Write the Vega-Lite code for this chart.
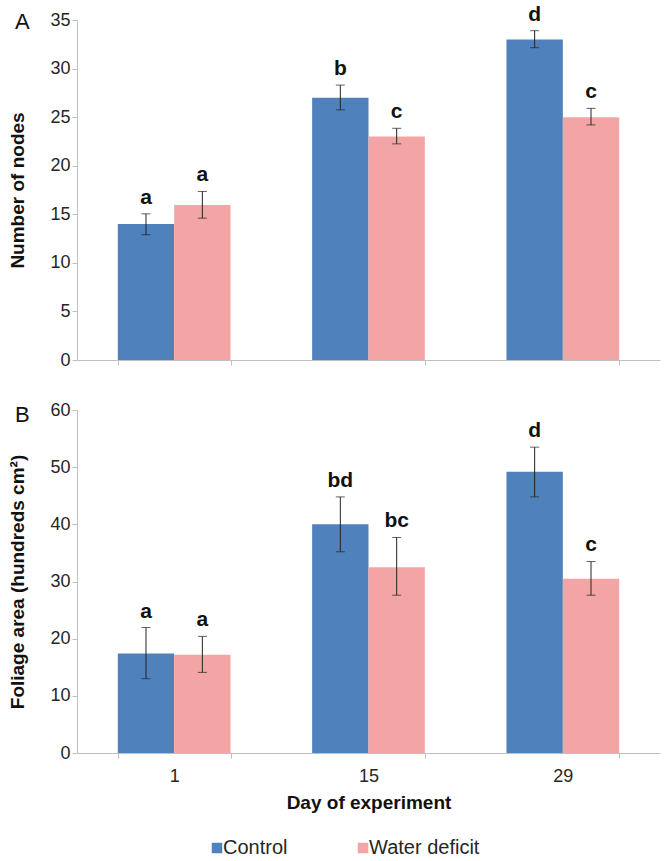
{
  "$schema": "https://vega.github.io/schema/vega-lite/v6.json",
  "padding": {"left": 8, "top": 3, "right": 5, "bottom": 0},
  "background": "white",
  "config": {
    "font": "Liberation Sans",
    "view": {"stroke": null},
    "axis": {
      "grid": false,
      "domainColor": "#bfbfbf",
      "tickColor": "#bfbfbf",
      "tickSize": 5,
      "labelFont": "Liberation Sans",
      "labelFontSize": 18,
      "labelColor": "#262626",
      "titleFont": "Liberation Sans",
      "titleFontSize": 19,
      "titleFontWeight": "bold",
      "titleColor": "#111111"
    },
    "title": {"font": "Liberation Sans", "color": "#111111"}
  },
  "resolve": {"scale": {"color": "independent"}, "legend": {"color": "independent"}},
  "datasets": {
    "nodes": [
      {"day": "1", "group": "Control", "value": 14, "low": 12.9, "high": 15.05, "letter": "a"},
      {"day": "1", "group": "Water deficit", "value": 15.95, "low": 14.6, "high": 17.35, "letter": "a"},
      {"day": "15", "group": "Control", "value": 27, "low": 25.75, "high": 28.3, "letter": "b"},
      {"day": "15", "group": "Water deficit", "value": 23, "low": 22.25, "high": 23.85, "letter": "c"},
      {"day": "29", "group": "Control", "value": 33, "low": 32.15, "high": 33.9, "letter": "d"},
      {"day": "29", "group": "Water deficit", "value": 25, "low": 24.2, "high": 25.9, "letter": "c"}
    ],
    "foliage": [
      {"day": "1", "group": "Control", "value": 17.4, "low": 13.0, "high": 21.95, "letter": "a"},
      {"day": "1", "group": "Water deficit", "value": 17.2, "low": 14.1, "high": 20.4, "letter": "a"},
      {"day": "15", "group": "Control", "value": 40.0, "low": 35.2, "high": 44.8, "letter": "bd"},
      {"day": "15", "group": "Water deficit", "value": 32.5, "low": 27.6, "high": 37.7, "letter": "bc"},
      {"day": "29", "group": "Control", "value": 49.2, "low": 44.8, "high": 53.5, "letter": "d"},
      {"day": "29", "group": "Water deficit", "value": 30.5, "low": 27.6, "high": 33.5, "letter": "c"}
    ]
  },
  "spacing": 32,
  "vconcat": [
    {
      "width": 583,
      "height": 340,
      "title": {"text": "A", "anchor": "start", "frame": "group", "dx": -62, "dy": 30, "offset": 0, "fontSize": 22, "fontWeight": "normal"},
      "data": {"name": "nodes"},
      "encoding": {
        "x": {
          "field": "day", "type": "nominal", "sort": ["1", "15", "29"],
          "scale": {"paddingInner": 0.42, "paddingOuter": 0.21},
          "axis": {"labels": false, "title": null, "tickBand": "extent"}
        },
        "xOffset": {"field": "group", "sort": ["Control", "Water deficit"], "scale": {"paddingInner": 0, "paddingOuter": 0}}
      },
      "layer": [
        {
          "mark": {"type": "bar"},
          "encoding": {
            "y": {"field": "value", "type": "quantitative", "title": "Number of nodes",
                  "scale": {"domain": [0, 35], "nice": false},
                  "axis": {"values": [0, 5, 10, 15, 20, 25, 30, 35], "titlePadding": 22}},
            "color": {"field": "group", "type": "nominal",
                      "scale": {"domain": ["Control", "Water deficit"], "range": ["#4f81bd", "#f3a5a5"]},
                      "legend": null}
          }
        },
        {
          "mark": {"type": "rule", "color": "#222222", "strokeWidth": 1},
          "encoding": {
            "y": {"field": "low", "type": "quantitative", "title": "Number of nodes"},
            "y2": {"field": "high"}
          }
        },
        {
          "mark": {"type": "tick", "color": "#222222", "thickness": 1, "size": 9},
          "encoding": {"y": {"field": "low", "type": "quantitative", "title": "Number of nodes"}}
        },
        {
          "mark": {"type": "tick", "color": "#222222", "thickness": 1, "size": 9},
          "encoding": {"y": {"field": "high", "type": "quantitative", "title": "Number of nodes"}}
        },
        {
          "mark": {"type": "text", "fontSize": 21, "fontWeight": "bold", "baseline": "alphabetic", "dy": -10, "color": "#111111"},
          "encoding": {
            "y": {"field": "high", "type": "quantitative", "title": "Number of nodes"},
            "text": {"field": "letter"}
          }
        }
      ]
    },
    {
      "width": 583,
      "height": 343,
      "title": {"text": "B", "anchor": "start", "frame": "group", "dx": -62, "dy": 26, "offset": 0, "fontSize": 22, "fontWeight": "normal"},
      "data": {"name": "foliage"},
      "encoding": {
        "x": {
          "field": "day", "type": "nominal", "sort": ["1", "15", "29"],
          "scale": {"paddingInner": 0.42, "paddingOuter": 0.21},
          "axis": {"labelAngle": 0, "title": "Day of experiment", "tickBand": "extent", "labelPadding": 9, "titlePadding": 8}
        },
        "xOffset": {"field": "group", "sort": ["Control", "Water deficit"], "scale": {"paddingInner": 0, "paddingOuter": 0}}
      },
      "layer": [
        {
          "mark": {"type": "bar"},
          "encoding": {
            "y": {"field": "value", "type": "quantitative", "title": "Foliage area  (hundreds cm²)",
                  "scale": {"domain": [0, 60], "nice": false},
                  "axis": {"values": [0, 10, 20, 30, 40, 50, 60], "titlePadding": 22}},
            "color": {"field": "group", "type": "nominal",
                      "scale": {"domain": ["Control", "Water deficit"], "range": ["#4f81bd", "#f3a5a5"]},
                      "legend": {"title": null, "orient": "none", "legendX": 130, "legendY": 428, "direction": "horizontal",
                                 "symbolType": "square", "symbolSize": 110, "symbolStrokeWidth": 0,
                                 "labelFontSize": 20, "labelFont": "Liberation Sans", "labelColor": "#262626",
                                 "labelOffset": -4, "columnPadding": 65, "padding": 0}}
          }
        },
        {
          "mark": {"type": "rule", "color": "#222222", "strokeWidth": 1},
          "encoding": {
            "y": {"field": "low", "type": "quantitative", "title": "Foliage area  (hundreds cm²)"},
            "y2": {"field": "high"}
          }
        },
        {
          "mark": {"type": "tick", "color": "#222222", "thickness": 1, "size": 9},
          "encoding": {"y": {"field": "low", "type": "quantitative", "title": "Foliage area  (hundreds cm²)"}}
        },
        {
          "mark": {"type": "tick", "color": "#222222", "thickness": 1, "size": 9},
          "encoding": {"y": {"field": "high", "type": "quantitative", "title": "Foliage area  (hundreds cm²)"}}
        },
        {
          "mark": {"type": "text", "fontSize": 21, "fontWeight": "bold", "baseline": "alphabetic", "dy": -10, "color": "#111111"},
          "encoding": {
            "y": {"field": "high", "type": "quantitative", "title": "Foliage area  (hundreds cm²)"},
            "text": {"field": "letter"}
          }
        }
      ]
    }
  ]
}
